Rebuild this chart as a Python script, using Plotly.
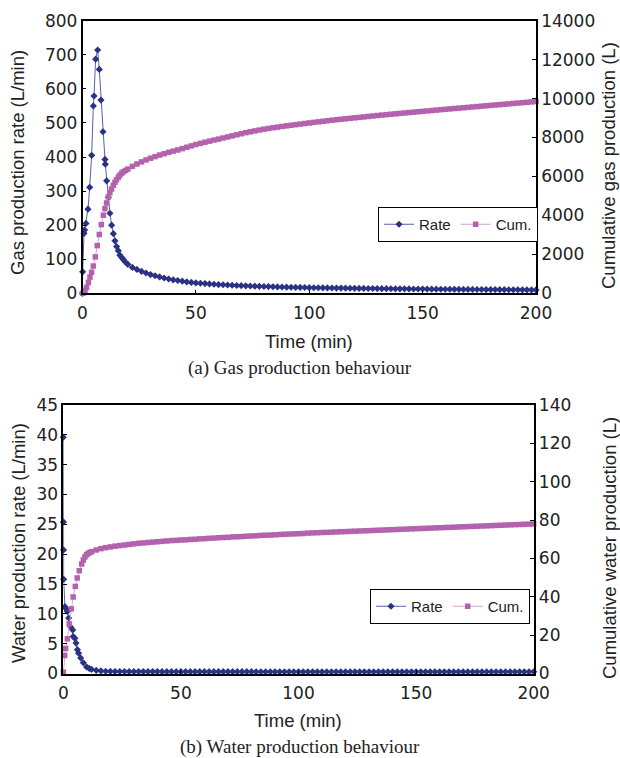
import plotly.graph_objects as go

# ---------------- data ----------------
# (a) gas production
gas_rate_time_early = [0, 0.07, 0.66, 0.95, 1.54, 2.42, 3.16, 4.04, 4.77, 5.07, 5.8, 6.68,
                       7.41, 8.15, 9.03, 9.91, 10.06, 10.65, 11.4, 12.1, 12.85, 13.6, 14.3,
                       15.05, 15.8, 16.5, 17.3, 18, 19]
gas_rate_early = [0, 63, 176, 186, 205, 247, 311, 405, 550, 579, 687, 714,
                  657, 567, 474, 393, 379, 330, 282, 235, 200, 175, 154,
                  137, 125, 112, 105, 99, 91]
gas_cum_time_early = [0, 0.5, 1.1, 1.8, 2.6, 3.3, 4.0, 4.77, 5.65, 6.5, 7.4, 8.3, 9.2, 9.9,
                      10.6, 11.4, 12.1, 12.8, 13.6, 14.3, 15.0, 15.8, 16.5, 17.3, 18, 19]
gas_cum_early = [0, 40, 150, 300, 560, 830, 1080, 1400, 1870, 2450, 3020, 3530, 4010, 4350,
                 4640, 4950, 5170, 5360, 5550, 5700, 5830, 5960, 6070, 6170, 6240, 6310]
gas_tail_time = [20, 22, 24, 26, 28, 30, 32, 34, 36, 38, 40, 42, 44, 46, 48, 50, 52, 54, 56, 58,
                 60, 62, 64, 66, 68, 70, 72, 74, 76, 78, 80, 82, 84, 86, 88, 90, 92, 94, 96, 98,
                 100, 102, 104, 106, 108, 110, 112, 114, 116, 118, 120, 122, 124, 126, 128, 130,
                 132, 134, 136, 138, 140, 142, 144, 146, 148, 150, 152, 154, 156, 158, 160, 162,
                 164, 166, 168, 170, 172, 174, 176, 178, 180, 182, 184, 186, 188, 190, 192, 194,
                 196, 198, 200]
gas_rate_tail = [85, 76, 70, 64.5, 59.5, 55, 51.5, 48, 45, 42, 39.5, 37.5, 35.5, 33.5, 32, 30.5,
                 29.5, 28.5, 27.5, 26.5,
                 25.5, 25, 24.3, 23.6, 23, 22.4, 21.9, 21.4, 20.9, 20.4, 20, 19.6, 19.2, 18.8,
                 18.4, 18.1, 17.8, 17.5, 17.2, 16.9, 16.6, 16.4, 16.2, 16.0, 15.8, 15.6, 15.4,
                 15.2, 15.0, 14.8, 14.6, 14.4, 14.3, 14.1, 14.0, 13.8, 13.7, 13.5, 13.4, 13.2,
                 13.1, 13.0, 12.8, 12.7, 12.6, 12.5, 12.3, 12.2, 12.1, 12.0, 11.9, 11.8, 11.7,
                 11.6, 11.5, 11.4, 11.3, 11.2, 11.1, 11.0, 10.9, 10.8, 10.7, 10.6, 10.5, 10.4,
                 10.3, 10.2, 10.1, 10.0, 9.9]
gas_cum_tail = [6380, 6520, 6640, 6750, 6850, 6940, 7020, 7100, 7170, 7240, 7300, 7360, 7430,
                7500, 7570, 7640, 7700, 7760, 7815, 7870,
                7920, 7975, 8030, 8085, 8140, 8195, 8250, 8295, 8340, 8385, 8430, 8465, 8500,
                8535, 8570, 8600, 8630, 8660, 8690, 8720, 8750, 8778, 8806, 8834, 8862, 8890,
                8914, 8938, 8962, 8986, 9010, 9034, 9058, 9082, 9106, 9130, 9152, 9174, 9196,
                9218, 9240, 9261, 9282, 9303, 9324, 9345, 9366, 9387, 9408, 9429, 9450, 9470,
                9490, 9510, 9530, 9550, 9570, 9590, 9610, 9630, 9650, 9670, 9690, 9710, 9730,
                9750, 9770, 9790, 9810, 9830, 9850]

# (b) water production
water_rate_time_early = [0, 0.05, 0.1, 0.15, 0.7, 1.1, 1.7, 2.3, 3.1, 4.0, 4.2, 4.9, 5.4, 6.0,
                         6.5, 7.4, 8.5, 9.9, 11.0]
water_rate_early = [39.6, 25.4, 20.7, 15.8, 11.2, 10.9, 10.4, 9.3, 7.8, 7.3, 6.2, 5.9, 5.1, 4.0,
                    3.4, 2.6, 1.8, 1.1, 0.85]
water_cum_time_early = [0, 0.6, 1.0, 1.7, 2.5, 3.4, 4.2, 5.1, 5.9, 6.8, 7.8, 8.5, 9.2, 9.9,
                        10.6, 11.3]
water_cum_early = [0.7, 9.4, 13.0, 18.1, 25.9, 33.7, 39.9, 45.4, 49.8, 53.6, 57.1, 59.2, 60.8,
                   61.9, 62.6, 63.1]
water_tail_time = [12, 14, 16, 18, 20, 22, 24, 26, 28, 30, 32, 34, 36, 38, 40, 42, 44, 46, 48,
                   50, 52, 54, 56, 58, 60, 62, 64, 66, 68, 70, 72, 74, 76, 78, 80, 82, 84, 86,
                   88, 90, 92, 94, 96, 98, 100, 102, 104, 106, 108, 110, 112, 114, 116, 118,
                   120, 122, 124, 126, 128, 130, 132, 134, 136, 138, 140, 142, 144, 146, 148,
                   150, 152, 154, 156, 158, 160, 162, 164, 166, 168, 170, 172, 174, 176, 178,
                   180, 182, 184, 186, 188, 190, 192, 194, 196, 198, 200]
water_rate_tail = [0.70, 0.52, 0.43, 0.38, 0.35, 0.34, 0.33, 0.33, 0.32, 0.32,
                   0.32, 0.32, 0.32, 0.32, 0.32, 0.31, 0.31, 0.31, 0.31, 0.31,
                   0.31, 0.31, 0.31, 0.31, 0.31, 0.31, 0.31, 0.31, 0.31, 0.31,
                   0.31, 0.31, 0.31, 0.31, 0.31, 0.30, 0.30, 0.30, 0.30, 0.30,
                   0.30, 0.30, 0.30, 0.30, 0.30, 0.30, 0.30, 0.30, 0.30, 0.30,
                   0.30, 0.30, 0.30, 0.30, 0.30, 0.30, 0.30, 0.30, 0.30, 0.30,
                   0.30, 0.30, 0.30, 0.30, 0.30, 0.29, 0.29, 0.29, 0.29, 0.29,
                   0.29, 0.29, 0.29, 0.29, 0.29, 0.29, 0.29, 0.29, 0.29, 0.29,
                   0.29, 0.29, 0.29, 0.29, 0.29, 0.29, 0.29, 0.29, 0.29, 0.29,
                   0.29, 0.29, 0.29, 0.29, 0.29]
water_cum_tail = [63.5, 64.4, 65.1, 65.6, 66.0, 66.4, 66.7, 67.0, 67.3, 67.6, 67.9, 68.1, 68.3,
                  68.5, 68.7, 68.9, 69.1, 69.3, 69.4, 69.6, 69.7, 69.9, 70.0, 70.2, 70.3, 70.5,
                  70.6, 70.8, 70.9, 71.0, 71.2, 71.3, 71.4, 71.6, 71.7, 71.8, 72.0, 72.1, 72.2,
                  72.3, 72.5, 72.6, 72.7, 72.8, 72.9, 73.0, 73.2, 73.3, 73.4, 73.5, 73.6, 73.7,
                  73.8, 73.9, 74.0, 74.1, 74.2, 74.3, 74.4, 74.5, 74.6, 74.7, 74.8, 74.9, 75.0,
                  75.1, 75.2, 75.3, 75.4, 75.5, 75.6, 75.7, 75.8, 75.9, 76.0, 76.1, 76.2, 76.3,
                  76.4, 76.5, 76.6, 76.7, 76.8, 76.9, 77.0, 77.1, 77.2, 77.3, 77.4, 77.5, 77.6,
                  77.7, 77.8, 77.9, 78.0]

x_ticks = [0, 50, 100, 150, 200]
series_names = ["Rate", "Cum."]

# ---------------- styling ----------------
W, H = 620, 758
RATE_LINE, RATE_MARK = "#5860a8", "#2b3285"
CUM_LINE, CUM_MARK = "#d9a3d4", "#b462ae"
TICK_FONT = dict(family="DejaVu Sans", size=17, color="#222")
TITLE_FONT = dict(family="Liberation Sans", size=18.5, color="#222")
CAP_FONT = dict(family="Liberation Serif", size=19, color="#222")


def px(xp):
    return xp / W


def py(yp):
    return 1 - yp / H


fig = go.Figure()

rate_style = dict(mode="lines+markers", line=dict(color=RATE_LINE, width=1),
                  marker=dict(symbol="diamond", size=5.5, color=RATE_MARK), cliponaxis=False)
cum_style = dict(mode="lines+markers", line=dict(color=CUM_LINE, width=1),
                 marker=dict(symbol="square", size=5.5, color=CUM_MARK), cliponaxis=False)

fig.add_trace(go.Scatter(x=gas_rate_time_early + gas_tail_time,
                         y=gas_rate_early + gas_rate_tail, name=series_names[0],
                         xaxis="x", yaxis="y", legend="legend", **rate_style))
fig.add_trace(go.Scatter(x=gas_cum_time_early + gas_tail_time,
                         y=gas_cum_early + gas_cum_tail, name=series_names[1],
                         xaxis="x", yaxis="y2", legend="legend", **cum_style))
fig.add_trace(go.Scatter(x=water_rate_time_early + water_tail_time,
                         y=water_rate_early + water_rate_tail, name=series_names[0],
                         xaxis="x2", yaxis="y3", legend="legend2", **rate_style))
fig.add_trace(go.Scatter(x=water_cum_time_early + water_tail_time,
                         y=water_cum_early + water_cum_tail, name=series_names[1],
                         xaxis="x2", yaxis="y4", legend="legend2", **cum_style))

axis_common = dict(showgrid=False, zeroline=False, showline=True, linecolor="black",
                   linewidth=1.5, ticks="inside", ticklen=4, tickwidth=1, tickcolor="black",
                   tickfont=TICK_FONT, automargin=False)

top_x = [px(82.5), px(536)]
top_y = [py(293.3), py(20.7)]
bot_x = [px(63.3), px(533.7)]
bot_y = [py(673.5), py(405)]

legend_common = dict(xanchor="left", yanchor="top", orientation="h",
                     bgcolor="white", bordercolor="black", borderwidth=1,
                     font=dict(family="Liberation Sans", size=15, color="#222"),
                     itemwidth=30, tracegroupgap=0)

fig.update_layout(
    width=W, height=H, margin=dict(l=0, r=0, t=0, b=0, autoexpand=False),
    paper_bgcolor="white", plot_bgcolor="white",
    xaxis=dict(domain=top_x, anchor="y", range=[0, 200], tickvals=x_ticks, mirror=True,
               ticklabelstandoff=4, **axis_common),
    yaxis=dict(domain=top_y, anchor="x", range=[0, 800], dtick=100, **axis_common),
    yaxis2=dict(overlaying="y", side="right", anchor="x", range=[0, 14000], dtick=2000,
                tickformat="d", **axis_common),
    xaxis2=dict(domain=bot_x, anchor="y3", range=[0, 200], tickvals=x_ticks, mirror=True,
                ticklabelstandoff=3, **axis_common),
    yaxis3=dict(domain=bot_y, anchor="x2", range=[0, 45], dtick=5, **axis_common),
    yaxis4=dict(overlaying="y3", side="right", anchor="x2", range=[0, 140], dtick=20,
                tickformat="d", **axis_common),
    legend=dict(x=px(378), y=py(207), **legend_common),
    legend2=dict(x=px(370), y=py(589), **legend_common),
    showlegend=True,
)

annotations = [
    dict(text="Gas production rate (L/min)", x=px(18), y=py(163), textangle=-90,
         font=TITLE_FONT),
    dict(text="Cumulative gas production (L)", x=px(609), y=py(166), textangle=-90,
         font=TITLE_FONT),
    dict(text="Time (min)", x=px(309), y=py(341), font=TITLE_FONT),
    dict(text="(a) Gas production behaviour", x=px(300), y=py(368), font=CAP_FONT),
    dict(text="Water production rate (L/min)", x=px(18), y=py(543), textangle=-90,
         font=TITLE_FONT),
    dict(text="Cumulative water production (L)", x=px(609), y=py(548), textangle=-90,
         font=TITLE_FONT),
    dict(text="Time (min)", x=px(298), y=py(720), font=TITLE_FONT),
    dict(text="(b) Water production behaviour", x=px(300), y=py(747), font=CAP_FONT),
]
for a in annotations:
    a.update(xref="paper", yref="paper", showarrow=False, xanchor="center",
             yanchor="middle")
fig.update_layout(annotations=annotations)

fig.write_html("out.html")
